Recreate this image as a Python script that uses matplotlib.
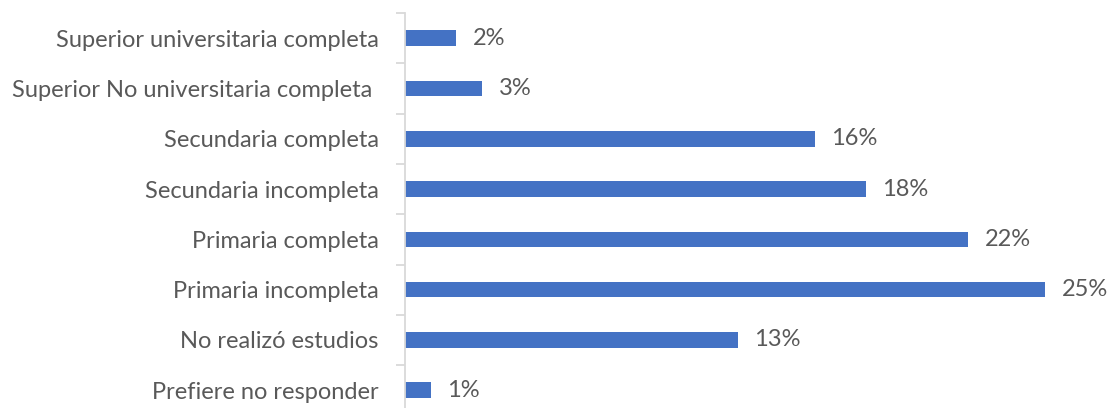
import matplotlib.pyplot as plt
from matplotlib.ticker import FixedLocator

categories = [
    "Prefiere no responder",
    "No realizó estudios",
    "Primaria incompleta",
    "Primaria completa",
    "Secundaria incompleta",
    "Secundaria completa",
    "Superior No universitaria completa ",
    "Superior universitaria completa",
]
values = [1, 13, 25, 22, 18, 16, 3, 2]

plt.rcParams['font.family'] = ['Lato', 'DejaVu Sans']
text_color = "#595959"
bar_color = "#4472C4"

W, H = 1113, 408
fig = plt.figure(figsize=(W / 100, H / 100), dpi=100)
# axis: x=0 at px 405, 25.6 px per %, category boundaries every ~50.3 px from y=13
x0, ppu = 405, 25.6
top, step = 13, 50.3
n = len(categories)
bottom_px = top + n * step
ax = fig.add_axes([x0 / W, (H - bottom_px) / H, 27.5 * ppu / W, n * step / H])

y = list(range(n))
ax.barh(y, values, height=0.31, color=bar_color)
ax.set_xlim(0, 27.5)
ax.set_ylim(-0.5, n - 0.5)

for yi, v in zip(y, values):
    ax.annotate(f"{v}%", (v, yi), xytext=(12, 0), textcoords="offset points",
                va="center", ha="left", fontsize=17, color=text_color)

ax.set_yticks(y)
ax.set_yticklabels(categories, fontsize=17, color=text_color)
ax.tick_params(axis="y", which="major", length=0, pad=19)
ax.yaxis.set_minor_locator(FixedLocator([i + 0.5 for i in range(-1, n)]))
ax.tick_params(axis="y", which="minor", length=6.5, width=1.3, color="#d9d9d9")
ax.set_xticks([])

for s in ["top", "right", "bottom"]:
    ax.spines[s].set_visible(False)
ax.spines["left"].set_color("#d9d9d9")
ax.spines["left"].set_linewidth(1.3)

fig.savefig("out.png", dpi=100)
